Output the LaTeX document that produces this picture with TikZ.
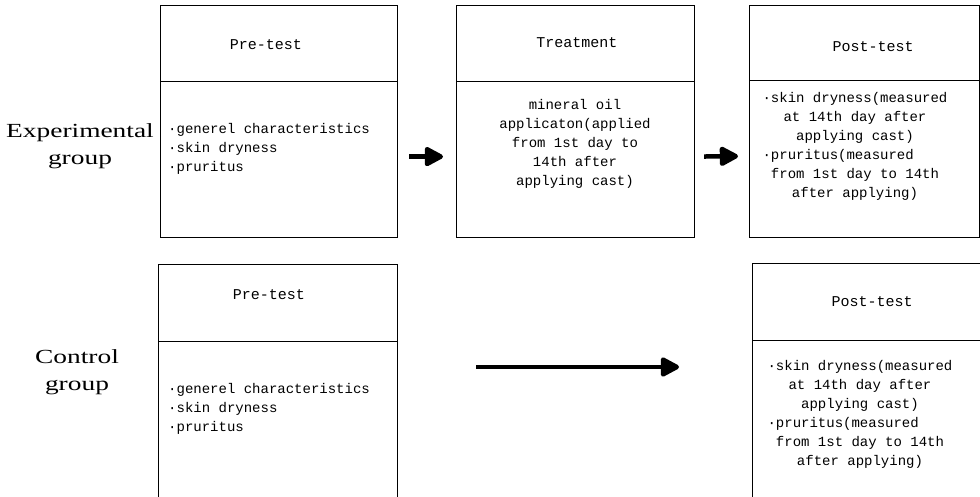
\documentclass[tikz,border=0pt]{standalone}
\usepackage{fontspec}
\setmainfont{Liberation Serif}
\newfontfamily\boxfont{Liberation Mono}
\newfontfamily\labfont[FakeStretch=1.37]{Liberation Serif}
\usetikzlibrary{arrows.meta}
\begin{document}
\begin{tikzpicture}[x=1pt,y=-1pt,
  box/.style={draw=black, line width=1.2pt, rectangle, inner sep=0pt, anchor=north west},
  hdrtext/.style={font=\boxfont\fontsize{15}{19}\selectfont, inner sep=0pt},
  bodytext/.style={font=\boxfont\fontsize{14}{19}\selectfont, inner sep=0pt},
  grouplabel/.style={font=\labfont\fontsize{20}{27}\selectfont, align=center, inner sep=0pt},
  flow/.style={line width=4.5pt, -{Triangle[length=21pt,width=21pt,round]}}
]
\useasboundingbox[fill=white] (0,0) rectangle (980,497);

% group labels
\node[grouplabel] (lexp) at (80,146) {Experimental\\group};
\node[grouplabel] (lctl) at (77,372) {Control\\group};

% experimental group boxes
\node[box, minimum width=237, minimum height=76] (pre1h) at (160,5) {};
\node[box, minimum width=237, minimum height=156] (pre1b) at (160,81) {};
\node[box, minimum width=238, minimum height=76] (treath) at (456,5) {};
\node[box, minimum width=238, minimum height=156] (treatb) at (456,81) {};
\node[box, minimum width=229.5, minimum height=75] (post1h) at (749,5) {};
\node[box, minimum width=229.5, minimum height=157] (post1b) at (749,80) {};

% control group boxes
\node[box, minimum width=239, minimum height=77] (pre2h) at (158,264) {};
\node[box, minimum width=239, minimum height=170] (pre2b) at (158,341) {};
\node[box, minimum width=240, minimum height=77] (post2h) at (752,263) {};
\node[box, minimum width=240, minimum height=170] (post2b) at (752,340) {};

% header texts
\node[hdrtext] (t1) at (266,45) {Pre-test};
\node[hdrtext] (t2) at (577,43) {Treatment};
\node[hdrtext] (t3) at (873,47) {Post-test};
\node[hdrtext] (t4) at (269,295) {Pre-test};
\node[hdrtext] (t5) at (872,302) {Post-test};

% body texts
\node[bodytext, anchor=west, align=left] (b1) at (168,149)
  {·generel characteristics\\·skin dryness\\·pruritus};
\node[bodytext, align=center] (b2) at (575,144)
  {mineral oil\\applicaton(applied\\from 1st day to\\14th after\\applying cast)};
\node[bodytext, align=center] (b3) at (855,146.5)
  {·skin dryness(measured\\at 14th day after\\applying cast)\\·pruritus(measured\phantom{xxxx}\\from 1st day to 14th\\after applying)};
\node[bodytext, anchor=west, align=left] (b4) at (168,409)
  {·generel characteristics\\·skin dryness\\·pruritus};
\node[bodytext, align=center] (b5) at (860,414.5)
  {·skin dryness(measured\\at 14th day after\\applying cast)\\·pruritus(measured\phantom{xxxx}\\from 1st day to 14th\\after applying)};

% arrows
\coordinate (ly) at (0,367);
\draw[flow, shorten <=11pt, shorten >=13pt] ([yshift=3pt]pre1b.east) -- ([yshift=3pt]treatb.west);
\draw[flow, shorten <=9pt, shorten >=11pt] ([yshift=3pt]treatb.east) -- ([yshift=3pt]post1b.west);
\draw[flow, shorten <=78pt, shorten >=73pt] (pre2b.east |- ly) -- (post2b.west |- ly);
\end{tikzpicture}
\end{document}
